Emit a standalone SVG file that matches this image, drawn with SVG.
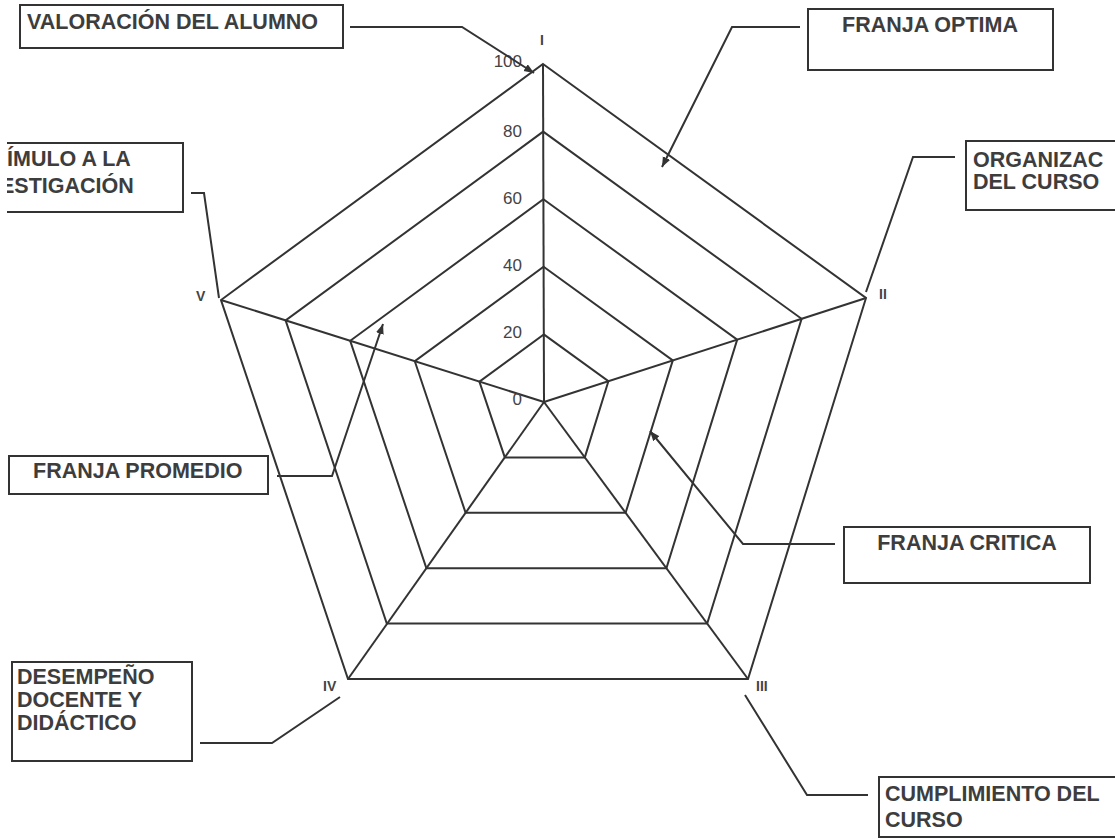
<svg xmlns="http://www.w3.org/2000/svg" width="1115" height="840" viewBox="0 0 1115 840">
<defs>
<style>
.box{fill:#fff;stroke:#333;stroke-width:2}
.lbl{font-family:"Liberation Sans",Arial,sans-serif;font-weight:bold;font-size:21.5px;fill:#3d3d3d}
.num{font-family:"Liberation Sans",Arial,sans-serif;font-size:17px;fill:#444;text-anchor:end}
.rom{font-family:"Liberation Sans",Arial,sans-serif;font-weight:bold;font-size:14px;fill:#444}
.ring{fill:none;stroke:#333;stroke-width:2;stroke-linejoin:miter}
.spoke{stroke:#333;stroke-width:2}
.con{fill:none;stroke:#333;stroke-width:2}
</style>
<marker id="arr" markerUnits="userSpaceOnUse" markerWidth="12" markerHeight="10" refX="10" refY="4" orient="auto">
<path d="M0,0 L10,4 L0,8 Z" fill="#333"/>
</marker>
<clipPath id="clipL"><rect x="7" y="0" width="1108" height="840"/></clipPath>
</defs>
<rect width="1115" height="840" fill="#fff"/>

<g id="chart">
<polygon class="ring" points="543.8,334.4 608.4,381.2 584.8,457.4 504.8,457.4 479.4,381.6"/>
<polygon class="ring" points="543.6,266.8 672.8,360.4 625.6,512.8 465.6,512.8 414.8,361.2"/>
<polygon class="ring" points="543.4,199.2 737.2,339.6 666.4,568.2 426.4,568.2 350.2,340.8"/>
<polygon class="ring" points="543.2,131.6 801.6,318.8 707.2,623.6 386.8,623.6 285.6,320.4"/>
<polygon class="ring" points="543,64 866,298 748,679 348,679 221,300"/>
<line class="spoke" x1="544" y1="402" x2="543" y2="64"/>
<line class="spoke" x1="544" y1="402" x2="866" y2="298"/>
<line class="spoke" x1="544" y1="402" x2="748" y2="679"/>
<line class="spoke" x1="544" y1="402" x2="348" y2="679"/>
<line class="spoke" x1="544" y1="402" x2="221" y2="300"/>
<text class="num" x="522" y="67">100</text>
<text class="num" x="522" y="137">80</text>
<text class="num" x="522" y="204">60</text>
<text class="num" x="522" y="271">40</text>
<text class="num" x="522" y="338">20</text>
<text class="num" x="522" y="405">0</text>
<text class="rom" x="542" y="45" text-anchor="middle">I</text>
<text class="rom" x="879" y="299">II</text>
<text class="rom" x="756" y="691">III</text>
<text class="rom" x="323" y="691">IV</text>
<text class="rom" x="196" y="301">V</text>
</g>

<g id="connectors">
<polyline class="con" points="350,27 462,27 534,73" marker-end="url(#arr)"/>
<polyline class="con" points="800,27 732,27 662,167" marker-end="url(#arr)"/>
<polyline class="con" points="955,157 913,157 866,292"/>
<polyline class="con" points="191,193 204,193 219,298"/>
<polyline class="con" points="277,476 332,476 383,324" marker-end="url(#arr)"/>
<polyline class="con" points="835,544 743,544 650,431" marker-end="url(#arr)"/>
<polyline class="con" points="200,743 272,743 340,697"/>
<polyline class="con" points="868,795 807,795 745,695"/>
</g>

<g id="n-valoracion">
<rect class="box" x="20" y="5" width="323" height="43"/>
<text class="lbl" x="27" y="29">VALORACIÓN DEL ALUMNO</text>
</g>
<g id="n-optima">
<rect class="box" x="808" y="9" width="245" height="61"/>
<text class="lbl" x="930" y="32" text-anchor="middle">FRANJA OPTIMA</text>
</g>
<g id="n-organizacion">
<rect class="box" x="966" y="141" width="160" height="69"/>
<text class="lbl" x="973" y="167">ORGANIZAC</text>
<text class="lbl" x="973" y="189">DEL CURSO</text>
</g>
<g id="n-estimulo" clip-path="url(#clipL)">
<rect class="box" x="-10" y="143" width="193" height="69"/>
<text class="lbl" x="7" y="166">ÍMULO A LA</text>
<text class="lbl" x="0" y="193">ESTIGACIÓN</text>
</g>
<g id="n-promedio">
<rect class="box" x="9" y="456" width="259" height="38"/>
<text class="lbl" x="33" y="478">FRANJA PROMEDIO</text>
</g>
<g id="n-critica">
<rect class="box" x="844" y="527" width="246" height="56"/>
<text class="lbl" x="967" y="550" text-anchor="middle">FRANJA CRITICA</text>
</g>
<g id="n-desempeno">
<rect class="box" x="12" y="662" width="180" height="99"/>
<text class="lbl" x="17" y="684">DESEMPEÑO</text>
<text class="lbl" x="17" y="707">DOCENTE Y</text>
<text class="lbl" x="17" y="730">DIDÁCTICO</text>
</g>
<g id="n-cumplimiento">
<rect class="box" x="879" y="777" width="250" height="60"/>
<text class="lbl" x="885" y="801">CUMPLIMIENTO DEL</text>
<text class="lbl" x="885" y="827">CURSO</text>
</g>
</svg>
